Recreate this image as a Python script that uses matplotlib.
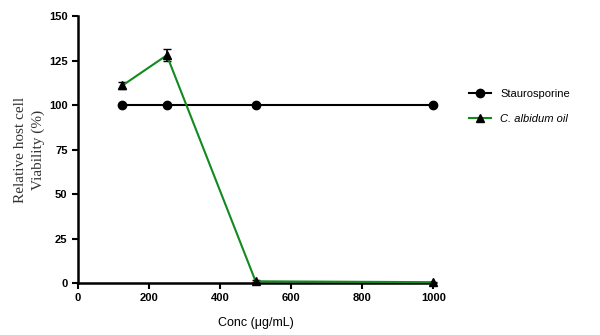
import matplotlib
matplotlib.use('Agg')
import matplotlib.pyplot as plt
import numpy as np

conc = [125, 250, 500, 1000]
stauro = [100, 100, 100, 100]
albidum = [111, 128, 1, 0.5]
albidum_err = [2.0, 3.5, 0.5, 0.3]

plt.rcParams['font.family'] = 'Liberation Sans'

fig = plt.figure(figsize=(6, 3.35), dpi=100)
ax = fig.add_axes([0.13, 0.155, 0.592, 0.797])

l1, = ax.plot(conc, stauro, color='black', marker='o', markersize=6, lw=1.5,
              label='Staurosporine', clip_on=False, zorder=3)
ax.errorbar(conc, albidum, yerr=albidum_err, fmt='none', ecolor='black',
            elinewidth=1.2, capsize=3, clip_on=False, zorder=4)
l2, = ax.plot(conc, albidum, color='#118a1e', marker='^', markersize=6,
              mfc='black', mec='black', lw=1.5, label='C. albidum oil',
              clip_on=False, zorder=4)

ax.set_xlim(0, 1000)
ax.set_ylim(0, 150)
ax.set_xticks([0, 200, 400, 600, 800, 1000])
ax.set_yticks([0, 25, 50, 75, 100, 125, 150])
for s in ['top', 'right']:
    ax.spines[s].set_visible(False)
for s in ['left', 'bottom']:
    ax.spines[s].set_linewidth(1.8)
ax.tick_params(width=1.5, length=4, labelsize=8)
for lab in ax.get_xticklabels() + ax.get_yticklabels():
    lab.set_fontweight('bold')

ax.set_xlabel('Conc (μg/mL)', fontsize=9, labelpad=10)
ax.set_ylabel('Relative host cell\nViability (%)', fontsize=11,
              family='Liberation Serif', color='#333333', labelpad=3,
              linespacing=1.4)

fig.legend([l1, l2], ['Staurosporine', 'C. albidum oil'], loc='upper left',
           bbox_to_anchor=(0.765, 0.765), frameon=False, fontsize=8,
           handlelength=2.0, labelspacing=1.4)
fig.legends[0].get_texts()[1].set_style('italic')

plt.savefig('out.png', dpi=100)
